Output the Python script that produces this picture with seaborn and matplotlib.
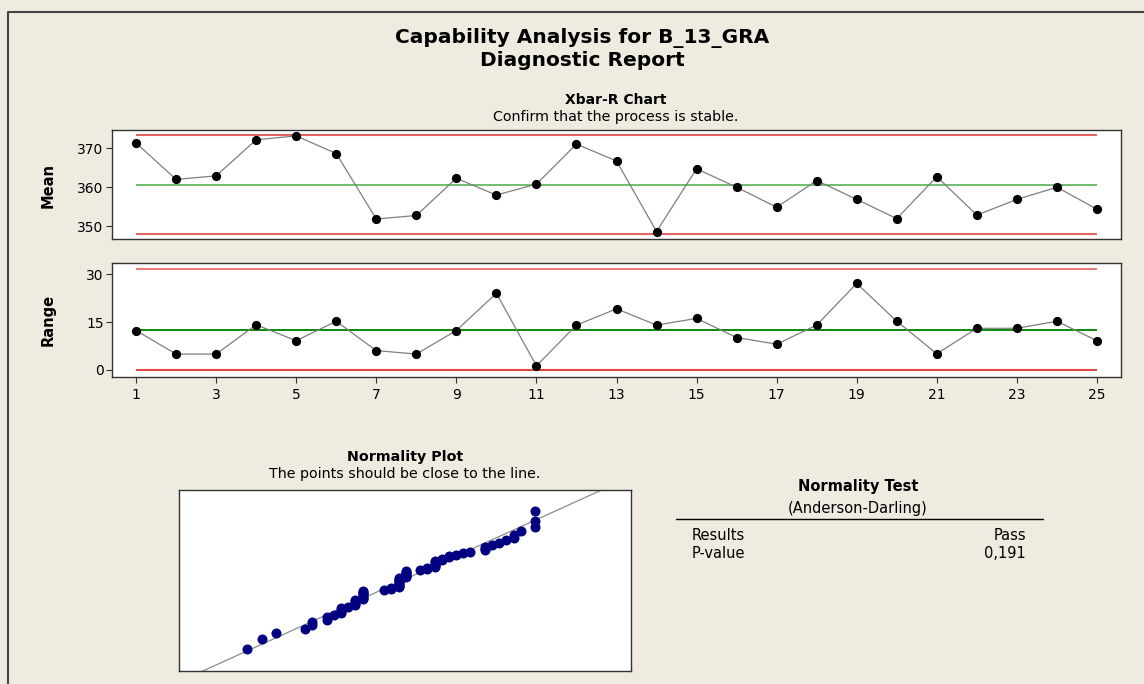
import numpy as np
import pandas as pd
import matplotlib
matplotlib.use("Agg")
import matplotlib.pyplot as plt
from matplotlib.lines import Line2D
import seaborn as sns
from statistics import NormalDist

# ---- data -------------------------------------------------------------
subgroups = list(range(1, 26))
xbar_means = [371.3, 362.0, 362.9, 372.1, 373.1, 368.6, 351.9, 352.8, 362.3, 358.0,
              360.8, 371.0, 366.7, 348.7, 364.7, 360.0, 354.9, 361.7, 356.9, 352.0,
              362.7, 352.9, 356.9, 360.0, 354.4]
ranges = [12.4, 5.0, 5.0, 14.2, 9.2, 15.3, 6.1, 5.0, 12.4, 24.1,
          1.3, 14.1, 19.2, 14.1, 16.2, 10.2, 8.1, 14.1, 27.2, 15.3,
          5.1, 13.1, 13.1, 15.3, 9.2]

xbar_cl, xbar_ucl, xbar_lcl = 360.7, 373.3, 348.1
r_cl, r_ucl, r_lcl = 12.5, 31.8, 0.0

# individual observations (value, how many times it occurs)
obs_values = [339, 341, 343, 347, 348, 350, 351, 352, 353, 354,
              355, 358, 359, 360, 361, 363, 364, 365, 366, 367,
              368, 369, 370, 372, 373, 374, 375, 376, 377, 379]
obs_counts = [1, 1, 1, 1, 2, 2, 1, 4, 1, 5,
              8, 1, 2, 10, 7, 1, 2, 6, 2, 2,
              1, 1, 1, 3, 1, 1, 1, 2, 1, 3]

test_rows = [("Results", "Pass"), ("P-value", "0,191")]

# ---- style ------------------------------------------------------------
W, H = 1144, 684
BG = "#EFEBE1"
sns.set_style("white")
plt.rcParams["font.family"] = ["DejaVu Sans"]
plt.rcParams["text.color"] = "black"
plt.rcParams["axes.labelcolor"] = "black"
plt.rcParams["axes.edgecolor"] = "#333333"
plt.rcParams["axes.linewidth"] = 1.0

fig = plt.figure(figsize=(W / 100, H / 100), dpi=100, facecolor=BG)


def fx(px):
    return px / W


def fy(py):
    return 1 - py / H


def add_axes(x0, y0, x1, y1):
    return fig.add_axes([fx(x0), fy(y1), (x1 - x0) / W, (y1 - y0) / H])


ax_x = add_axes(112, 130, 1121, 239)
ax_r = add_axes(112, 263, 1121, 377)
ax_n = add_axes(179, 490, 631, 671)

df = pd.DataFrame({"subgroup": subgroups, "mean": xbar_means, "range": ranges})


def control_chart(ax, col, cl, ucl, lcl, cl_color, ucl_color, lcl_color):
    ax.hlines(ucl, subgroups[0], subgroups[-1], colors=ucl_color, lw=1.5, zorder=2)
    ax.hlines(lcl, subgroups[0], subgroups[-1], colors=lcl_color, lw=1.5, zorder=2)
    ax.hlines(cl, subgroups[0], subgroups[-1], colors=cl_color, lw=1.4, zorder=2)
    sns.lineplot(data=df, x="subgroup", y=col, ax=ax, color="#7f7f7f", lw=0.9, zorder=3)
    sns.scatterplot(data=df, x="subgroup", y=col, ax=ax, color="black", s=44,
                    linewidth=0, zorder=4)
    ax.set_xlim(0.4, 25.6)
    ax.set_xlabel("")
    ax.set_ylabel("")
    ax.set_facecolor("white")
    ax.tick_params(axis="both", length=4, width=0.8, colors="#333333",
                   labelcolor="black", labelsize=10, pad=2)


control_chart(ax_x, "mean", xbar_cl, xbar_ucl, xbar_lcl, "#6DBF6D", "#E46464", "#E46464")
ax_x.set_ylim(346.8, 374.6)
ax_x.set_yticks([350, 360, 370])
ax_x.set_xticks([])
ax_x.tick_params(axis="y", left=True)

control_chart(ax_r, "range", r_cl, r_ucl, r_lcl, "#0A8A0A", "#E87C7C", "#E04848")
ax_r.set_ylim(-2.2, 33.6)
ax_r.set_yticks([0, 15, 30])
ax_r.set_xticks(subgroups[::2])
ax_r.tick_params(axis="y", left=True)
ax_r.tick_params(axis="x", bottom=True, pad=4)

label_font = dict(family=["Liberation Sans Narrow", "DejaVu Sans"], fontweight="bold",
                  fontsize=10.5, rotation=90, ha="center", va="center")
fig.text(fx(48), fy(185), "Mean", **label_font)
fig.text(fx(48), fy(320), "Range", **label_font)

# ---- normal probability plot -------------------------------------------
data = np.sort(np.repeat(obs_values, obs_counts)).astype(float)
n = len(data)
nd = NormalDist()
scores = np.array([nd.inv_cdf((i - 0.3) / (n + 0.4)) for i in range(1, n + 1)])
mu, sd = data.mean(), data.std(ddof=1)

xlim = (329.5, 392.3)
line_x = np.array(xlim)
line_z = (line_x - mu) / sd
sns.lineplot(x=line_x, y=line_z, ax=ax_n, color="#8c8c8c", lw=0.9, zorder=2)
sns.scatterplot(x=data, y=scores, ax=ax_n, color="#000080", s=52, linewidth=0, zorder=3)
ax_n.set_xlim(*xlim)
ax_n.set_ylim(-3.09, 3.06)
ax_n.set_xticks([])
ax_n.set_yticks([])
ax_n.set_xlabel("")
ax_n.set_ylabel("")
ax_n.set_facecolor("white")

# ---- texts ------------------------------------------------------------
fig.text(fx(582), fy(38), "Capability Analysis for B_13_GRA", ha="center", va="center",
         fontsize=14.5, fontweight="bold")
fig.text(fx(582), fy(60), "Diagnostic Report", ha="center", va="center",
         fontsize=14.5, fontweight="bold")
fig.text(fx(616), fy(100), "Xbar-R Chart", ha="center", va="center",
         fontsize=10, fontweight="bold")
fig.text(fx(616), fy(117), "Confirm that the process is stable.", ha="center", va="center",
         fontsize=10.3)
fig.text(fx(405), fy(457), "Normality Plot", ha="center", va="center",
         fontsize=10.3, fontweight="bold")
fig.text(fx(405), fy(474), "The points should be close to the line.", ha="center",
         va="center", fontsize=10.3)

fig.text(fx(858), fy(487), "Normality Test", ha="center", va="center",
         fontsize=10.5, fontweight="bold")
fig.text(fx(858), fy(508), "(Anderson-Darling)", ha="center", va="center", fontsize=10.5)
fig.add_artist(Line2D([fx(676), fx(1043)], [fy(519), fy(519)], color="black", lw=1.0))
for k, (name, val) in enumerate(test_rows):
    yy = fy(535 + 18 * k)
    fig.text(fx(692), yy, name, ha="left", va="center", fontsize=10.5)
    fig.text(fx(1026), yy, val, ha="right", va="center", fontsize=10.5)

# outer frame of the report page
fig.add_artist(Line2D([fx(8), fx(8), fx(W + 5)], [0, fy(12), fy(12)],
                      color="#444444", lw=1.5))

fig.savefig("out.png", dpi=100, facecolor=BG)
